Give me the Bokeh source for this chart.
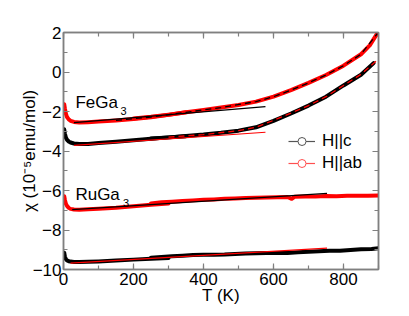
from bokeh.plotting import figure
from bokeh.models import Range1d, LinearAxis, SingleIntervalTicker, Label, Legend, LegendItem
from bokeh.embed import file_html
from bokeh.resources import INLINE

# ---------------- data (T in K, chi in 1e-5 emu/mol) ----------------
fe_ab_lo_T = [2, 4, 7, 10, 15, 20, 30, 45, 70, 100, 150, 200, 250, 300, 350]
fe_ab_lo_chi = [-1.63, -1.85, -2.12, -2.28, -2.40, -2.47, -2.53, -2.56, -2.54, -2.51, -2.45, -2.38, -2.29, -2.17, -2.04]
fe_ab_hi_T = [200, 250, 300, 350, 400, 450, 500, 550, 600, 650, 700, 750, 800, 850, 875, 897]
fe_ab_hi_chi = [-2.35, -2.27, -2.16, -2.04, -1.92, -1.80, -1.67, -1.50, -1.25, -0.92, -0.55, -0.15, 0.32, 0.90, 1.35, 1.97]

fe_c_lo_T = [2, 4, 7, 10, 15, 20, 30, 45, 70, 100, 150, 200, 250, 300, 350]
fe_c_lo_chi = [-2.90, -3.12, -3.33, -3.43, -3.52, -3.57, -3.62, -3.65, -3.64, -3.60, -3.53, -3.46, -3.38, -3.31, -3.25]
fe_c_hi_T = [250, 300, 350, 400, 450, 500, 550, 600, 650, 700, 750, 800, 850, 886]
fe_c_hi_chi = [-3.37, -3.31, -3.24, -3.17, -3.08, -2.97, -2.80, -2.47, -2.10, -1.70, -1.25, -0.68, -0.14, 0.45]

ru_ab_lo_T = [2, 4, 7, 10, 15, 20, 30, 45, 70, 100, 150, 200, 250, 300]
ru_ab_lo_chi = [-6.29, -6.48, -6.68, -6.78, -6.88, -6.93, -6.96, -6.97, -6.95, -6.92, -6.87, -6.80, -6.72, -6.66]
ru_ab_hi_T = [250, 280, 310, 340, 370, 400, 430, 460, 490, 520, 550, 580, 610, 640, 652, 660, 690, 720, 750, 780, 810, 840, 870, 900]
ru_ab_hi_chi = [-6.66, -6.60, -6.57, -6.53, -6.50, -6.47, -6.45, -6.42, -6.40, -6.38, -6.37, -6.35, -6.34, -6.33, -6.42, -6.32, -6.31, -6.30, -6.28, -6.29, -6.27, -6.26, -6.27, -6.25]

ru_c_lo_T = [2, 4, 7, 10, 15, 20, 30, 45, 70, 100, 150, 200, 250, 300]
ru_c_lo_chi = [-9.15, -9.35, -9.48, -9.54, -9.58, -9.60, -9.62, -9.62, -9.61, -9.59, -9.55, -9.50, -9.46, -9.42]
ru_c_hi_T = [250, 280, 310, 340, 370, 400, 430, 460, 490, 520, 550, 580, 610, 640, 670, 700, 730, 760, 790, 820, 850, 880, 900]
ru_c_hi_chi = [-9.41, -9.37, -9.33, -9.30, -9.27, -9.25, -9.25, -9.24, -9.21, -9.19, -9.18, -9.17, -9.17, -9.16, -9.13, -9.10, -9.08, -9.05, -9.05, -9.01, -8.98, -8.96, -8.93]

# straight-line fits
fe_ab_fit_T = [30, 577]
fe_ab_fit_chi = [-2.56, -1.75]
fe_c_fit_T = [30, 577]
fe_c_fit_chi = [-3.72, -3.05]
ru_ab_fit_T = [25, 753]
ru_ab_fit_chi = [-6.97, -6.15]
ru_c_fit_T = [20, 753]
ru_c_fit_chi = [-9.68, -8.92]

# dashed high-temperature fits (FeGa3)
fe_ab_dfit_T = [150, 250, 350, 450, 550, 600, 650, 700, 750, 800, 850, 897]
fe_ab_dfit_chi = [-2.45, -2.28, -2.04, -1.80, -1.50, -1.25, -0.92, -0.55, -0.15, 0.32, 0.90, 1.95]
fe_c_dfit_T = [300, 400, 500, 550, 600, 650, 700, 750, 800, 850, 900]
fe_c_dfit_chi = [-3.30, -3.17, -2.97, -2.80, -2.45, -2.08, -1.70, -1.25, -0.68, -0.12, 0.66]

x_ticks_interval = 200
y_ticks_interval = 2
legend_labels = ["H||c", "H||ab"]
x_title = "T (K)"
y_title = "χ (10⁻⁵emu/mol)"

FONT = "Liberation Sans"
GREY = "#808080"
RED = "#ff0000"

p = figure(width=400, height=310, output_backend="svg", toolbar_location=None,
           x_range=Range1d(0, 900), y_range=Range1d(-10, 2),
           min_border_left=63, min_border_right=22, min_border_top=32, min_border_bottom=41,
           x_axis_location=None, y_axis_location=None)
p.xgrid.visible = False
p.ygrid.visible = False
p.outline_line_color = GREY
p.outline_line_width = 1.5
p.background_fill_color = "white"
p.border_fill_color = "white"


def make_axis(interval, show, title=None, title_standoff=0):
    ax = LinearAxis(ticker=SingleIntervalTicker(interval=interval, num_minor_ticks=2))
    ax.axis_line_color = GREY
    ax.axis_line_width = 1.5
    ax.major_tick_line_color = GREY
    ax.minor_tick_line_color = GREY
    ax.major_tick_line_width = 1.2
    ax.minor_tick_line_width = 1.2
    ax.major_tick_in = 6
    ax.major_tick_out = 0
    ax.minor_tick_in = 4
    ax.minor_tick_out = 0
    ax.major_label_text_font = FONT
    ax.major_label_text_font_size = "17px"
    ax.major_label_text_color = "black" if show else None
    ax.major_label_standoff = 3
    if title is not None:
        ax.axis_label = title
        ax.axis_label_text_font = FONT
        ax.axis_label_text_font_size = "17px"
        ax.axis_label_text_font_style = "normal"
        ax.axis_label_text_color = "black"
        ax.axis_label_standoff = title_standoff
    return ax

xb = make_axis(x_ticks_interval, True, x_title, -2)
yl = make_axis(y_ticks_interval, True, y_title, -9)
yl.major_label_standoff = 2
p.add_layout(xb, "below")
p.add_layout(make_axis(x_ticks_interval, False), "above")
p.add_layout(yl, "left")
p.add_layout(make_axis(y_ticks_interval, False), "right")

DW = 4
kw = dict(line_width=DW, line_join="round", line_cap="round")

# FeGa3
p.line(fe_ab_lo_T, fe_ab_lo_chi, line_color=RED, **kw)
p.line(fe_ab_hi_T, fe_ab_hi_chi, line_color=RED, **kw)
p.line(fe_c_lo_T, fe_c_lo_chi, line_color="black", **kw)
p.line(fe_c_hi_T, fe_c_hi_chi, line_color="black", **kw)
# RuGa3
p.line(ru_ab_lo_T, ru_ab_lo_chi, line_color=RED, **kw)
p.line(ru_ab_hi_T, ru_ab_hi_chi, line_color=RED, **kw)
p.line(ru_c_lo_T, ru_c_lo_chi, line_color="black", **kw)
p.line(ru_c_hi_T, ru_c_hi_chi, line_color="black", **kw)

# fits
p.line(fe_ab_fit_T, fe_ab_fit_chi, line_color="black", line_width=1.2)
p.line(fe_c_fit_T, fe_c_fit_chi, line_color=RED, line_width=1.2)
p.line(ru_ab_fit_T, ru_ab_fit_chi, line_color="black", line_width=1.2)
p.line(ru_c_fit_T, ru_c_fit_chi, line_color=RED, line_width=1.2)
p.line(fe_ab_dfit_T, fe_ab_dfit_chi, line_color="black", line_width=1.3, line_dash="6 4")
p.line(fe_c_dfit_T, fe_c_dfit_chi, line_color=RED, line_width=1.3, line_dash="6 4")

# legend (placeholder renderers holding a single NaN so nothing is drawn in the frame)
nan = [float("nan")]
lc = p.line(x=nan, y=nan, line_color="#555555", line_width=1.2)
sc = p.scatter(x=nan, y=nan, marker="circle", size=5, line_color="#555555", fill_color="white")
la = p.line(x=nan, y=nan, line_color="#ff5050", line_width=1.2)
sa = p.scatter(x=nan, y=nan, marker="circle", size=5, line_color="#ff5050", fill_color="white")
legend = Legend(items=[LegendItem(label=legend_labels[0], renderers=[lc, sc]),
                       LegendItem(label=legend_labels[1], renderers=[la, sa])],
                location=(225, 96), padding=0, margin=0, spacing=2,
                glyph_width=27, glyph_height=20, label_height=20, label_standoff=7,
                label_text_font=FONT, label_text_font_size="17px", label_text_color="black",
                border_line_color=None, background_fill_alpha=0)
p.add_layout(legend)

# compound labels
lab = dict(text_font=FONT, text_color="black", text_baseline="alphabetic")
p.add_layout(Label(x=34, y=-1.54, text="FeGa", text_font_size="17px", **lab))
p.add_layout(Label(x=163, y=-1.99, text="3", text_font_size="11px", **lab))
p.add_layout(Label(x=34, y=-6.2, text="RuGa", text_font_size="17px", **lab))
p.add_layout(Label(x=170, y=-6.62, text="3", text_font_size="11px", **lab))

open("out.html", "w").write(file_html(p, INLINE))
